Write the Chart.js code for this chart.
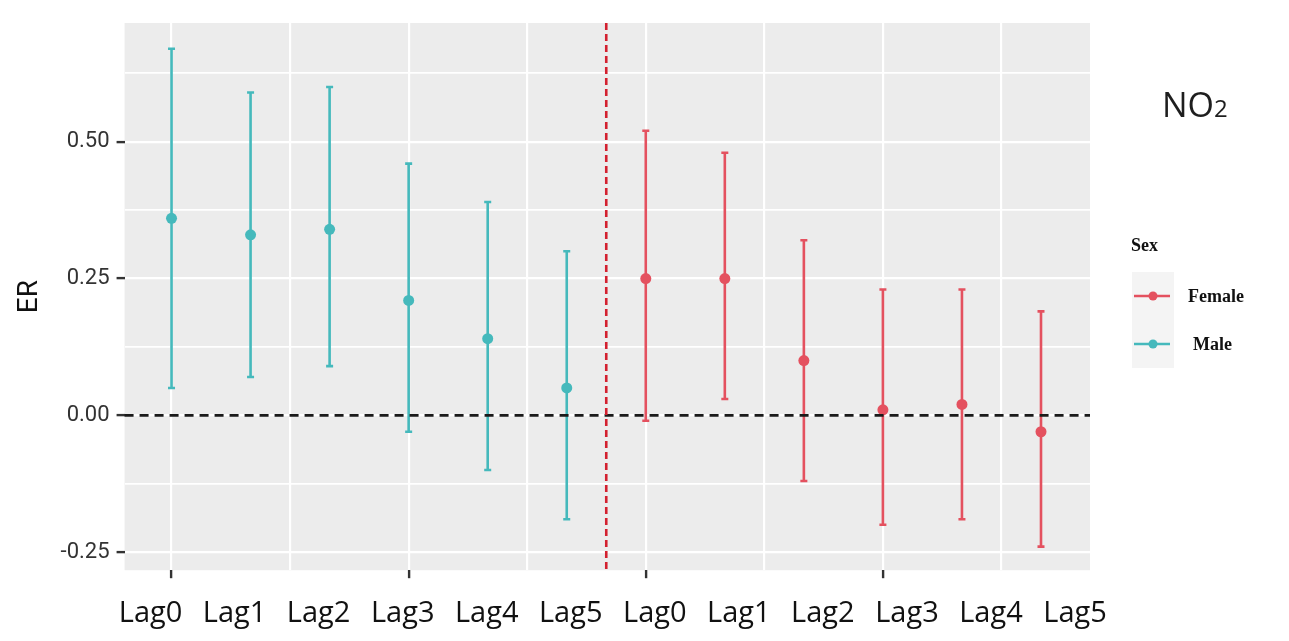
<!DOCTYPE html>
<html>
<head>
<meta charset="utf-8">
<script src="https://cdn.jsdelivr.net/npm/chart.js@4.4.0/dist/chart.umd.min.js"></script>
<style>
  html, body { margin: 0; padding: 0; background: #fff; }
  #chart { display: block; }
</style>
</head>
<body>
<canvas id="chart" width="1289" height="641"></canvas>
<script>
(function () {
  'use strict';

  // lag labels (repeated for each group)
  var lagLabels = ['Lag0', 'Lag1', 'Lag2', 'Lag3', 'Lag4', 'Lag5'];

  // Male: ER and 95% CI
  var maleER = [0.36, 0.33, 0.34, 0.21, 0.14, 0.05];
  var maleLower = [0.05, 0.07, 0.09, -0.03, -0.10, -0.19];
  var maleUpper = [0.67, 0.59, 0.60, 0.46, 0.39, 0.30];

  // Female: ER and 95% CI
  var femaleER = [0.25, 0.25, 0.10, 0.01, 0.02, -0.03];
  var femaleLower = [-0.01, 0.03, -0.12, -0.20, -0.19, -0.24];
  var femaleUpper = [0.52, 0.48, 0.32, 0.23, 0.23, 0.19];

  // y ticks (labels only on major ones)
  var yTickValues = [-0.25, -0.125, 0, 0.125, 0.25, 0.375, 0.5, 0.625];
  var yTickLabels = ['-0.25', '', '0.00', '', '0.25', '', '0.50', ''];

  // x grid lines and tick marks
  var xGridValues = [1, 2.5, 4, 5.5, 7, 8.5, 10, 11.5];
  var xTickMarks = [1, 4, 7, 10];
  var groupDivider = 6.5;

  var MALE_COLOR = '#45b9bc';
  var FEMALE_COLOR = '#e4515f';

  function toPoints(values, offset) {
    return values.map(function (v, i) { return { x: i + 1 + offset, y: v }; });
  }

  var panelBg = {
    id: 'panelBg',
    beforeDraw: function (chart) {
      var a = chart.chartArea;
      var ctx = chart.ctx;
      ctx.save();
      ctx.fillStyle = '#ececec';
      ctx.fillRect(a.left, a.top, a.right - a.left, a.bottom - a.top);
      ctx.restore();
    }
  };

  var errorBars = {
    id: 'errorBars',
    beforeDatasetsDraw: function (chart) {
      var ctx = chart.ctx;
      var xs = chart.scales.x, ys = chart.scales.y;
      ctx.save();
      chart.data.datasets.forEach(function (ds) {
        ctx.strokeStyle = ds.borderColor;
        ctx.lineWidth = 2.6;
        ds.data.forEach(function (p, i) {
          var px = xs.getPixelForValue(p.x);
          var lo = ys.getPixelForValue(ds.lower[i]);
          var hi = ys.getPixelForValue(ds.upper[i]);
          ctx.beginPath();
          ctx.moveTo(px, lo); ctx.lineTo(px, hi);
          ctx.moveTo(px - 3.5, lo); ctx.lineTo(px + 3.5, lo);
          ctx.moveTo(px - 3.5, hi); ctx.lineTo(px + 3.5, hi);
          ctx.stroke();
        });
      });
      ctx.restore();
    }
  };

  var refLines = {
    id: 'refLines',
    afterDatasetsDraw: function (chart) {
      var ctx = chart.ctx;
      var a = chart.chartArea;
      var y0 = chart.scales.y.getPixelForValue(0);
      var xd = chart.scales.x.getPixelForValue(groupDivider);
      ctx.save();
      ctx.lineWidth = 2.6;
      ctx.strokeStyle = '#1a1a1a';
      ctx.setLineDash([9, 6]);
      ctx.beginPath(); ctx.moveTo(a.left, y0); ctx.lineTo(a.right, y0); ctx.stroke();
      ctx.strokeStyle = '#d3202f';
      ctx.setLineDash([7, 4]);
      ctx.beginPath(); ctx.moveTo(xd, a.top); ctx.lineTo(xd, a.bottom); ctx.stroke();
      ctx.restore();
    }
  };

  var sideText = {
    id: 'sideText',
    afterDraw: function (chart) {
      var ctx = chart.ctx;
      ctx.save();
      // NO2 label
      ctx.fillStyle = '#1e1e1e';
      ctx.textBaseline = 'alphabetic';
      ctx.font = '34px "Open Sans"';
      ctx.fillText('NO', 1162, 117);
      var w = ctx.measureText('NO').width;
      ctx.font = '24px "Open Sans"';
      ctx.fillText('2', 1162 + w, 117);

      // legend
      ctx.fillStyle = '#f4f4f4';
      ctx.fillRect(1132, 272, 42, 96);
      ctx.fillStyle = '#111';
      ctx.font = 'bold 18px "Liberation Serif"';
      ctx.textBaseline = 'middle';
      ctx.fillText('Sex', 1131, 246);
      var items = [
        { label: 'Female', color: FEMALE_COLOR, y: 296, tx: 1188 },
        { label: 'Male', color: MALE_COLOR, y: 344, tx: 1193 }
      ];
      items.forEach(function (it) {
        ctx.strokeStyle = it.color;
        ctx.lineWidth = 2.4;
        ctx.beginPath(); ctx.moveTo(1134, it.y); ctx.lineTo(1170, it.y); ctx.stroke();
        ctx.fillStyle = it.color;
        ctx.beginPath(); ctx.arc(1153, it.y, 4.5, 0, Math.PI * 2); ctx.fill();
        ctx.fillStyle = '#111';
        ctx.fillText(it.label, it.tx, it.y + 1);
      });
      ctx.restore();
    }
  };

  new Chart(document.getElementById('chart'), {
    type: 'scatter',
    data: {
      datasets: [{
        label: 'Male',
        data: toPoints(maleER, 0),
        lower: maleLower,
        upper: maleUpper,
        borderColor: MALE_COLOR,
        backgroundColor: MALE_COLOR,
        pointRadius: 5.5,
        pointBorderWidth: 0,
        pointHoverRadius: 5.5
      }, {
        label: 'Female',
        data: toPoints(femaleER, 6),
        lower: femaleLower,
        upper: femaleUpper,
        borderColor: FEMALE_COLOR,
        backgroundColor: FEMALE_COLOR,
        pointRadius: 5.5,
        pointBorderWidth: 0,
        pointHoverRadius: 5.5
      }]
    },
    options: {
      responsive: false,
      animation: false,
      layout: { padding: { left: 0, right: 199, top: 23, bottom: 0 } },
      plugins: {
        legend: { display: false },
        tooltip: { enabled: false }
      },
      scales: {
        x: {
          type: 'linear',
          position: 'bottom',
          min: 0.406,
          max: 12.62,
          afterBuildTicks: function (scale) {
            scale.ticks = xGridValues.map(function (v) { return { value: v }; });
          },
          ticks: { display: false },
          border: { display: false },
          grid: {
            color: '#ffffff',
            lineWidth: 2.2,
            tickLength: 8,
            tickWidth: 2.4,
            tickColor: function (c) {
              return c.tick && xTickMarks.indexOf(c.tick.value) >= 0 ? '#333333' : 'rgba(0,0,0,0)';
            }
          }
        },
        xl: {
          type: 'linear',
          position: 'bottom',
          weight: 1,
          min: 0.691,
          max: 12.178,
          afterBuildTicks: function (scale) {
            var t = [];
            for (var i = 0; i < lagLabels.length * 2; i++) t.push({ value: i + 1 });
            scale.ticks = t;
          },
          ticks: {
            autoSkip: false,
            maxRotation: 0,
            padding: 10,
            color: '#111111',
            font: { family: '"Open Sans"', size: 29 },
            callback: function (v) { return lagLabels[(v - 1) % lagLabels.length]; }
          },
          border: { display: false },
          grid: { display: false }
        },
        y: {
          min: -0.283,
          max: 0.717,
          afterBuildTicks: function (scale) {
            scale.ticks = yTickValues.map(function (v) { return { value: v }; });
          },
          title: {
            display: true,
            text: 'ER',
            color: '#111111',
            font: { family: 'Roboto', size: 28 },
            padding: { top: 13, bottom: 7 }
          },
          ticks: {
            padding: 7,
            color: '#333333',
            font: { family: 'Roboto', size: 22 },
            callback: function (v) {
              var i = yTickValues.indexOf(v);
              return i >= 0 ? yTickLabels[i] : '';
            }
          },
          border: { display: false },
          grid: {
            color: '#ffffff',
            lineWidth: function (c) {
              var i = c.tick ? yTickValues.indexOf(c.tick.value) : -1;
              return i >= 0 && yTickLabels[i] ? 2.2 : 1.8;
            },
            tickLength: 8,
            tickWidth: 2.4,
            tickColor: function (c) {
              var i = c.tick ? yTickValues.indexOf(c.tick.value) : -1;
              return i >= 0 && yTickLabels[i] ? '#333333' : 'rgba(0,0,0,0)';
            }
          }
        }
      }
    },
    plugins: [panelBg, errorBars, refLines, sideText]
  });
})();
</script>
</body>
</html>
